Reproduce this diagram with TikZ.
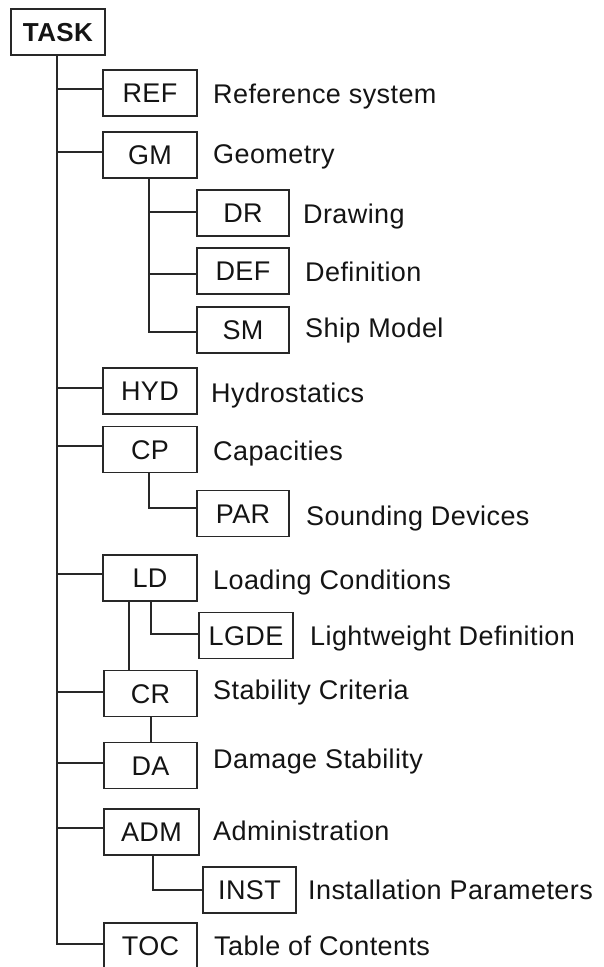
\documentclass[tikz,border=0pt]{standalone}
\usepackage{fontspec}
\setmainfont{Liberation Sans}[LetterSpace=1.5]
\definecolor{lc}{RGB}{40,40,40}
\definecolor{tc}{RGB}{20,20,20}
\tikzset{
  box/.style={draw=lc, line width=1.8pt, minimum height=46pt, inner sep=0pt,
    text height=19pt, text depth=0pt, font=\fontsize{27}{30}\selectfont, text=tc},
  rootbox/.style={box, font=\fontsize{26}{30}\selectfont\bfseries},
  lbl/.style={anchor=base west, inner sep=0pt, font=\fontsize{27}{30}\selectfont, text=tc},
  conn/.style={draw=lc, line width=1.8pt}
}
\begin{document}
\begin{tikzpicture}[x=1pt,y=-1pt]
\useasboundingbox (0,0) rectangle (604,967);
% boxes
\node[rootbox, minimum width=94pt] (task) at (58,32) {TASK};
\node[box, minimum width=94pt] (ref)  at (150,93)    {REF};
\node[box, minimum width=94pt] (gm)   at (150,155)   {GM};
\node[box, minimum width=92pt] (dr)   at (243,213)   {DR};
\node[box, minimum width=92pt] (def)  at (243,271)   {DEF};
\node[box, minimum width=92pt] (sm)   at (243,330)   {SM};
\node[box, minimum width=94pt] (hyd)  at (150,391)   {HYD};
\node[box, minimum width=94pt] (cp)   at (150,449.5) {CP};
\node[box, minimum width=92pt] (par)  at (243,513.5) {PAR};
\node[box, minimum width=94pt] (ld)   at (150,578)   {LD};
\node[box, minimum width=94pt] (lgde) at (246,635.5) {LGDE};
\node[box, minimum width=93pt] (cr)   at (150.5,693.5) {CR};
\node[box, minimum width=93pt] (da)   at (150.5,765.5) {DA};
\node[box, minimum width=95pt] (adm)  at (151.5,832) {ADM};
\node[box, minimum width=93pt] (inst) at (249.5,890) {INST};
\node[box, minimum width=93pt] (toc)  at (150.5,946) {TOC};
% labels
\node[lbl] (lref)  at (213,103) {Reference system};
\node[lbl] (lgm)   at (213,163) {Geometry};
\node[lbl] (ldr)   at (303,223) {Drawing};
\node[lbl] (ldef)  at (305,281) {Definition};
\node[lbl] (lsm)   at (305,337) {Ship Model};
\node[lbl] (lhyd)  at (211,402) {Hydrostatics};
\node[lbl] (lcp)   at (213,460) {Capacities};
\node[lbl] (lpar)  at (306,525) {Sounding Devices};
\node[lbl] (lld)   at (213,589) {Loading Conditions};
\node[lbl] (llgde) at (310,645) {Lightweight Definition};
\node[lbl] (lcr)   at (213,699) {Stability Criteria};
\node[lbl] (lda)   at (213,768) {Damage Stability};
\node[lbl] (ladm)  at (213,840) {Administration};
\node[lbl] (linst) at (308,899) {Installation Parameters};
\node[lbl] (ltoc)  at (214,955) {Table of Contents};
% trunk and first-level branches
\coordinate (tr) at ([xshift=-1pt]task.south);
\foreach \n/\s in {ref/4,gm/3,hyd/3,cp/3.5,ld/4,cr/1.5,da/2.5,adm/4}{
  \coordinate (c\n) at ([yshift=\s pt]\n.west);
  \draw[conn] (tr |- c\n) -- (c\n);
}
\coordinate (ctoc) at ([yshift=2pt]toc.west);
\draw[conn] (tr) |- (ctoc);
% GM children
\coordinate (g) at ([xshift=-1pt]gm.south);
\coordinate (cdr) at ([yshift=1pt]dr.west);
\coordinate (cdef) at ([yshift=-3pt]def.west);
\coordinate (csm) at ([yshift=-2pt]sm.west);
\draw[conn] (g) |- (csm);
\draw[conn] (g |- cdr) -- (cdr);
\draw[conn] (g |- cdef) -- (cdef);
% CP child
\coordinate (cpar) at ([yshift=5.5pt]par.west);
\draw[conn] ([xshift=-1pt]cp.south) |- (cpar);
% LD links
\coordinate (l1) at ([xshift=-21pt]ld.south);
\draw[conn] (l1) -- (l1 |- cr.north);
\coordinate (clg) at ([yshift=1.5pt]lgde.west);
\draw[conn] ([xshift=1pt]ld.south) |- (clg);
\draw[conn] ([xshift=0.5pt]cr.south) -- ([xshift=0.5pt]da.north);
% ADM child
\draw[conn] ([xshift=1.5pt]adm.south) |- (inst.west);
\end{tikzpicture}
\end{document}
